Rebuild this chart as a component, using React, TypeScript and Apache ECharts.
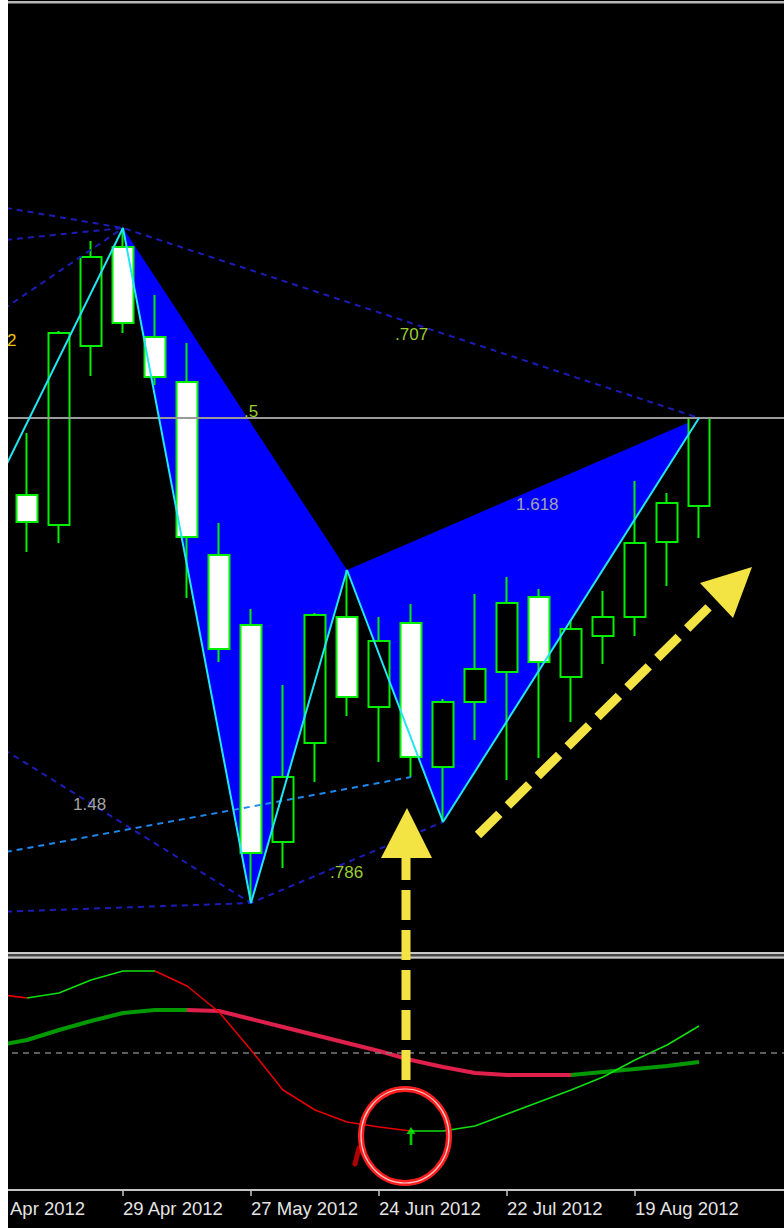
import React, { useEffect, useRef } from 'react';
import * as echarts from 'echarts';

// Weekly categories (index 0 = week of 1 Apr 2012)
const weeks = [
  '1 Apr 2012', '8 Apr 2012', '15 Apr 2012', '22 Apr 2012', '29 Apr 2012', '6 May 2012',
  '13 May 2012', '20 May 2012', '27 May 2012', '3 Jun 2012', '10 Jun 2012', '17 Jun 2012',
  '24 Jun 2012', '1 Jul 2012', '8 Jul 2012', '15 Jul 2012', '22 Jul 2012', '29 Jul 2012',
  '5 Aug 2012', '12 Aug 2012', '19 Aug 2012', '26 Aug 2012', '2 Sep 2012', '9 Sep 2012',
  '16 Sep 2012', '23 Sep 2012',
];
const labelWeeks = [0, 4, 8, 12, 16, 20];

// [week index, open, close, low, high]
const candles = [
  [1, 1.0505, 1.0478, 1.0448, 1.0567],
  [2, 1.0475, 1.0667, 1.0457, 1.0669],
  [3, 1.0654, 1.0743, 1.0624, 1.0759],
  [4, 1.0753, 1.0677, 1.0667, 1.0772],
  [5, 1.0663, 1.0623, 1.0615, 1.0705],
  [6, 1.0618, 1.0463, 1.0402, 1.0657],
  [7, 1.0445, 1.0351, 1.0338, 1.0477],
  [8, 1.0375, 1.0147, 1.0097, 1.0391],
  [9, 1.0158, 1.0223, 1.0132, 1.0315],
  [10, 1.0257, 1.0385, 1.0218, 1.0387],
  [11, 1.0383, 1.0303, 1.0284, 1.0430],
  [12, 1.0293, 1.0359, 1.0238, 1.0383],
  [13, 1.0377, 1.0243, 1.0223, 1.0396],
  [14, 1.0233, 1.0298, 1.0178, 1.0301],
  [15, 1.0298, 1.0331, 1.0260, 1.0406],
  [16, 1.0328, 1.0397, 1.0220, 1.0423],
  [17, 1.0403, 1.0338, 1.0242, 1.0411],
  [18, 1.0323, 1.0371, 1.0278, 1.0380],
  [19, 1.0364, 1.0383, 1.0336, 1.0409],
  [20, 1.0383, 1.0457, 1.0364, 1.0519],
  [21, 1.0458, 1.0497, 1.0414, 1.0507],
  [22, 1.0494, 1.0582, 1.0462, 1.0582],
];

// Harmonic pattern pivots [week index, price]
const zigzag = [[0, 1.0512], [4, 1.0772], [8, 1.0097], [11, 1.0430], [14, 1.0178], [22, 1.0582]];
// Filled triangles [i1, p1, i2, p2, i3, p3]
const triangles = [
  [4, 1.0772, 8, 1.0097, 11, 1.0430],
  [11, 1.0430, 14, 1.0178, 22, 1.0582],
];
// Dashed ratio lines
const fibTop = [[0, 1.0794], [4, 1.0772], [22, 1.0582]];
const fibTop2 = [[0, 1.0759], [4, 1.0772]];
const fibTop3 = [[0, 1.0685], [4, 1.0772]];
const fibLow1 = [[0, 1.0256], [8, 1.0097]];
const fibLow2 = [[0, 1.0088], [8, 1.0097], [14, 1.0178]];
const fibLowLight = [[0, 1.0146], [13, 1.0223]];
const lastPrice = 1.0582;

// Oscillator sub-panel
const fastOsc = [29.5, 27.5, 30, 36.5, 41, 41, 33.5, 20.5, 1.5, -18.5, -28.5, -34.5, -37, -39, -39, -36.5, -30.5, -24.5, -18.5, -12, -3.5, 4, 13.5];
const slowOsc = [3.5, 6.5, 11.5, 16, 20, 21.5, 21.5, 21, 17, 13, 9, 5, 1, -3.5, -7, -10, -11, -11, -11, -9.5, -8, -6.5, -4.5];
const fastUpRanges = [[1, 5], [13, 22]];
const fastDownRanges = [[0, 1], [5, 13]];
const slowUpRanges = [[0, 6], [18, 22]];
const slowDownRanges = [[6, 18]];
const buySignal = [[13, -41.5]];

const mask = (vals: number[], ranges: number[][]) =>
  vals.map((v, i) => (ranges.some(([a, b]) => i >= a && i <= b) ? v : null));

export default function App() {
  const ref = useRef<HTMLDivElement>(null);
  useEffect(() => {
    if (!ref.current) return;
    const chart = echarts.init(ref.current, null, { renderer: 'svg' });
    const dark = '#1c1cb8';
    const dashed = (data: number[][], color: string) => ({
      type: 'line', xAxisIndex: 0, yAxisIndex: 0, data, symbol: 'none', z: 4,
      lineStyle: { color, width: 2, type: [6, 5] }, silent: true,
    });
    const Y = '#f3e443';
    const font = 'Liberation Sans, Arial, sans-serif';
    const txt = (text: string, x: number, y: number, fill: string) => ({
      type: 'text', x, y, z: 100, silent: true,
      style: { text, fill, font: `17px ${font}`, textAlign: 'left', textVerticalAlign: 'middle' },
    });
    const gridCommon = { left: -29, right: -27, containLabel: false, outerBoundsMode: 'none' };
    chart.setOption({
      animation: false,
      backgroundColor: '#000',
      grid: [
        { ...gridCommon, top: 0, height: 952 },
        { ...gridCommon, top: 959, height: 231 },
      ],
      xAxis: [
        { type: 'category', gridIndex: 0, data: weeks, boundaryGap: true, show: false },
        {
          type: 'category', gridIndex: 1, data: weeks, boundaryGap: true,
          axisLine: { show: true, onZero: false, lineStyle: { color: '#c4c4c4', width: 2 } },
          axisTick: {
            show: true, alignWithLabel: true, length: 6,
            interval: (i: number) => labelWeeks.includes(i),
            lineStyle: { color: '#c4c4c4', width: 1.5 },
          },
          axisLabel: {
            show: true, align: 'left', margin: 9, color: '#e4e4e4', fontSize: 18.5, fontFamily: font,
            interval: (i: number) => labelWeeks.includes(i),
            formatter: (v: string, i: number) => (i === 0 ? '{first|' + v.replace(/^\d+ /, '') + '}' : v),
            rich: { first: { padding: [0, 0, 0, 15], color: '#e4e4e4', fontSize: 18.5, fontFamily: font } },
          },
          splitLine: { show: false },
        },
      ],
      yAxis: [
        { type: 'value', gridIndex: 0, min: 1.0048, max: 1.1, show: false },
        { type: 'value', gridIndex: 1, min: -68.5, max: 47, show: false },
      ],
      series: [
        {
          type: 'custom', xAxisIndex: 0, yAxisIndex: 0, z: 1, clip: true, silent: true,
          data: triangles,
          encode: { x: [0, 2, 4], y: [1, 3, 5] },
          renderItem: (params: any, api: any) => {
            const p1 = api.coord([api.value(0), api.value(1)]);
            const p2 = api.coord([api.value(2), api.value(3)]);
            const p3 = api.coord([api.value(4), api.value(5)]);
            return { type: 'polygon', shape: { points: [p1, p2, p3] }, style: { fill: '#0000ff' } };
          },
        },
        {
          type: 'candlestick', xAxisIndex: 0, yAxisIndex: 0, z: 2, barWidth: 21, silent: true,
          data: candles,
          encode: { x: 0, y: [1, 2, 3, 4] },
          itemStyle: { color: '#000000', color0: '#ffffff', borderColor: '#00f000', borderColor0: '#00f000', borderWidth: 2 },
        },
        {
          type: 'line', xAxisIndex: 0, yAxisIndex: 0, data: zigzag, symbol: 'none', z: 5, silent: true,
          lineStyle: { color: '#22e6f4', width: 2 },
          markLine: {
            silent: true, symbol: 'none', precision: 4, label: { show: false },
            lineStyle: { color: '#9a9a9a', width: 2, type: 'solid' },
            data: [{ yAxis: lastPrice }],
          },
        },
        dashed(fibTop, dark),
        dashed(fibTop2, dark),
        dashed(fibTop3, dark),
        dashed(fibLow1, dark),
        dashed(fibLow2, dark),
        dashed(fibLowLight, '#1e88f0'),
        {
          type: 'line', xAxisIndex: 1, yAxisIndex: 1, data: mask(slowOsc, slowUpRanges), symbol: 'none', z: 3,
          lineStyle: { color: '#009a00', width: 4 }, silent: true,
          markLine: {
            silent: true, symbol: 'none', precision: 2, label: { show: false },
            lineStyle: { color: '#7c7c7c', width: 1.5, type: [6, 5] },
            data: [{ yAxis: 0 }],
          },
        },
        {
          type: 'line', xAxisIndex: 1, yAxisIndex: 1, data: mask(slowOsc, slowDownRanges), symbol: 'none', z: 3,
          lineStyle: { color: '#e0204c', width: 4 }, silent: true,
        },
        {
          type: 'line', xAxisIndex: 1, yAxisIndex: 1, data: mask(fastOsc, fastUpRanges), symbol: 'none', z: 4,
          lineStyle: { color: '#10e010', width: 1.5 }, silent: true,
        },
        {
          type: 'line', xAxisIndex: 1, yAxisIndex: 1, data: mask(fastOsc, fastDownRanges), symbol: 'none', z: 4,
          lineStyle: { color: '#e80000', width: 1.5 }, silent: true,
        },
        {
          type: 'scatter', xAxisIndex: 1, yAxisIndex: 1, data: buySignal, z: 5, silent: true,
          symbol: 'path://M5,0 L10,7 L6.5,7 L6.5,18 L3.5,18 L3.5,7 L0,7 Z',
          symbolSize: [9, 18], itemStyle: { color: '#00ff00' },
        },
      ],
      graphic: [
        { type: 'rect', z: 100, silent: true, shape: { x: 0, y: 1, width: 776, height: 2 }, style: { fill: '#b8b8b8' } },
        { type: 'rect', z: 100, silent: true, shape: { x: 0, y: 3, width: 776, height: 1 }, style: { fill: '#5c5c5c' } },
        { type: 'rect', z: 100, silent: true, shape: { x: 0, y: 952, width: 776, height: 7 }, style: { fill: '#484848' } },
        { type: 'rect', z: 100, silent: true, shape: { x: 0, y: 952, width: 776, height: 2 }, style: { fill: '#c8c8c8' } },
        { type: 'rect', z: 100, silent: true, shape: { x: 0, y: 956.5, width: 776, height: 2 }, style: { fill: '#c8c8c8' } },
        txt('2', -1, 340, '#f2c200'),
        txt('.707', 387, 334, '#9acd32'),
        txt('.5', 236, 411, '#9acd32'),
        txt('1.618', 508, 504, '#a4a4b0'),
        txt('1.48', 65, 804, '#a4a4a4'),
        txt('.786', 322, 872, '#9acd32'),
        { type: 'line', z: 101, silent: true, shape: { x1: 398, y1: 1080, x2: 398, y2: 852 }, style: { stroke: Y, lineWidth: 9, lineDash: [30, 10] } },
        { type: 'polygon', z: 101, silent: true, shape: { points: [[373, 858], [399, 808], [424, 858]] }, style: { fill: Y } },
        { type: 'line', z: 101, silent: true, shape: { x1: 470, y1: 835, x2: 708, y2: 600 }, style: { stroke: Y, lineWidth: 9, lineDash: [30, 12] } },
        { type: 'polygon', z: 101, silent: true, shape: { points: [[744, 567], [692, 583], [725, 618]] }, style: { fill: Y } },
        { type: 'line', z: 101, silent: true, shape: { x1: 347, y1: 1164, x2: 351, y2: 1148 }, style: { stroke: '#b00000', lineWidth: 5, lineCap: 'round' } },
        { type: 'ellipse', z: 102, silent: true, shape: { cx: 397, cy: 1136, rx: 44, ry: 47 }, style: { fill: 'none', stroke: '#ff1e1e', lineWidth: 6 } },
        { type: 'ellipse', z: 103, silent: true, shape: { cx: 397, cy: 1136, rx: 44, ry: 47 }, style: { fill: 'none', stroke: '#ffc8c8', lineWidth: 1.2 } },
      ],
    });
    return () => chart.dispose();
  }, []);
  return (
    <div
      ref={ref}
      style={{ position: 'absolute', left: 8, top: 0, width: 776, height: 1228, background: '#000' }}
    />
  );
}
